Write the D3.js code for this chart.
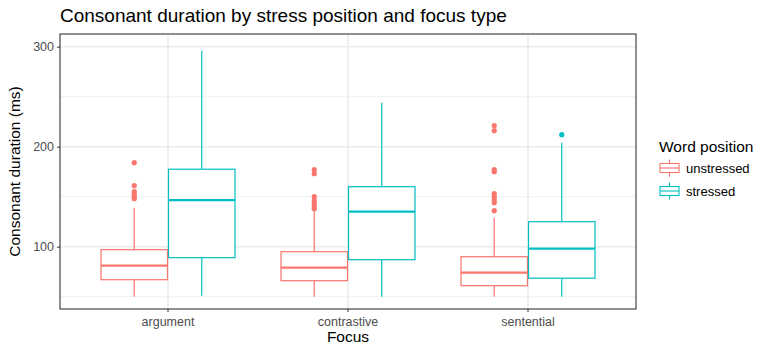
<!DOCTYPE html>
<html>
<head>
<meta charset="utf-8">
<script src="https://cdn.jsdelivr.net/npm/d3@7"></script>
<style>
body { margin: 0; background: #fff; }
text { font-family: "Liberation Sans", Arial, Helvetica, sans-serif; }
</style>
</head>
<body>
<div id="plot"></div>
<script>
var w = 758, h = 345;

// data
var focusTypes = ['argument', 'contrastive', 'sentential'];
var positions = ['unstressed', 'stressed'];
var colors = ['#F8766D', '#00BFC4'];
var yTicks = [100, 200, 300];

// [lowerWhisker, q1, median, q3, upperWhisker] per focus type
var unstressedStats = [[50, 67, 81, 97, 139], [50, 66, 79, 95, 137], [50, 61, 74, 90, 129]];
var stressedStats = [[51, 89, 146.5, 177.5, 296], [50, 87, 135, 160, 244], [50, 68.5, 98, 125, 204]];
var unstressedOutliers = [[184, 161, 155, 152, 150, 148], [177, 173, 150, 146, 143, 140, 138], [221, 216, 177, 175, 153, 150, 147, 144, 136]];
var stressedOutliers = [[], [], [212]];

var margin = {top: 34, left: 60, right: 122, bottom: 36};
var pw = w - margin.left - margin.right,
    ph = h - margin.top - margin.bottom;

var svg = d3.select('#plot').append('svg')
    .attr('width', w)
    .attr('height', h);

var plot = svg.append('g')
    .attr('transform', 'translate(' + margin.left + ',' + margin.top + ')');

var x = d3.scaleBand()
    .domain(focusTypes)
    .range([0, pw])
    .paddingOuter(0.1)
    .paddingInner(0);
var y = d3.scaleLinear()
    .domain([37.7, 312.7])
    .range([ph, 0]);

var boxW = x.bandwidth() * 0.75;
var sub = d3.scaleBand().domain(positions).range([-boxW / 2, boxW / 2]);

// grid
plot.selectAll('.minor').data([50, 150, 250]).enter().append('line')
    .attr('x1', 0).attr('x2', pw)
    .attr('y1', d => y(d)).attr('y2', d => y(d))
    .style('stroke', '#f0f0f0').style('stroke-width', 1);
plot.selectAll('.major').data(yTicks).enter().append('line')
    .attr('x1', 0).attr('x2', pw)
    .attr('y1', d => y(d)).attr('y2', d => y(d))
    .style('stroke', '#ebebeb').style('stroke-width', 1.6);
plot.selectAll('.vmajor').data(focusTypes).enter().append('line')
    .attr('y1', 0).attr('y2', ph)
    .attr('x1', d => x(d) + x.bandwidth() / 2).attr('x2', d => x(d) + x.bandwidth() / 2)
    .style('stroke', '#ebebeb').style('stroke-width', 1.6);

// boxes
var series = [
  {pos: 'unstressed', color: colors[0], stats: unstressedStats, out: unstressedOutliers},
  {pos: 'stressed', color: colors[1], stats: stressedStats, out: stressedOutliers}
];

series.forEach(function(s) {
  focusTypes.forEach(function(f, i) {
    var st = s.stats[i];
    var cx = x(f) + x.bandwidth() / 2 + sub(s.pos) + sub.bandwidth() / 2;
    var g = plot.append('g');
    g.append('line').attr('x1', cx).attr('x2', cx)
        .attr('y1', y(st[0])).attr('y2', y(st[1]))
        .style('stroke', s.color).style('stroke-width', 1.2);
    g.append('line').attr('x1', cx).attr('x2', cx)
        .attr('y1', y(st[3])).attr('y2', y(st[4]))
        .style('stroke', s.color).style('stroke-width', 1.2);
    g.append('rect')
        .attr('x', cx - sub.bandwidth() / 2 + 0.5)
        .attr('width', sub.bandwidth() - 1)
        .attr('y', y(st[3]))
        .attr('height', y(st[1]) - y(st[3]))
        .style('fill', '#fff').style('stroke', s.color).style('stroke-width', 1.2);
    g.append('line')
        .attr('x1', cx - sub.bandwidth() / 2 + 0.5).attr('x2', cx + sub.bandwidth() / 2 - 0.5)
        .attr('y1', y(st[2])).attr('y2', y(st[2]))
        .style('stroke', s.color).style('stroke-width', 2.3);
    g.selectAll('circle').data(s.out[i]).enter().append('circle')
        .attr('cx', cx).attr('cy', d => y(d)).attr('r', 2.6)
        .style('fill', s.color);
  });
});

// border
plot.append('rect')
    .attr('width', pw).attr('height', ph)
    .style('fill', 'none').style('stroke', '#333').style('stroke-width', 1.1);

// axes
var yAxis = plot.append('g').call(d3.axisLeft(y).tickValues(yTicks).tickSize(3).tickPadding(3));
var xAxis = plot.append('g').attr('transform', 'translate(0,' + ph + ')')
    .call(d3.axisBottom(x).tickSize(3).tickPadding(5));
[yAxis, xAxis].forEach(function(a) {
  a.select('.domain').remove();
  a.selectAll('.tick line').style('stroke', '#333');
  a.selectAll('.tick text').style('fill', '#4d4d4d').style('font-size', '12.5px')
      .style('font-family', '"Liberation Sans", Arial, sans-serif');
});

// titles
svg.append('text').attr('x', 60).attr('y', 22)
    .text('Consonant duration by stress position and focus type')
    .style('font-size', '19px').style('fill', '#000');
svg.append('text').attr('x', margin.left + pw / 2).attr('y', 342)
    .attr('text-anchor', 'middle')
    .text('Focus').style('font-size', '15.5px');
svg.append('text')
    .attr('transform', 'translate(20,' + (margin.top + ph / 2) + ') rotate(-90)')
    .attr('text-anchor', 'middle')
    .text('Consonant duration (ms)').style('font-size', '15.5px');

// legend
var legend = svg.append('g').attr('transform', 'translate(659,0)');
legend.append('text').attr('x', 0).attr('y', 152)
    .text('Word position').style('font-size', '15.5px');
var keys = legend.selectAll('.key').data(positions).enter().append('g')
    .attr('transform', (d, i) => 'translate(0,' + (168 + i * 23) + ')');
keys.append('line').attr('x1', 10.5).attr('x2', 10.5).attr('y1', -8.5).attr('y2', 8.5)
    .style('stroke', (d, i) => colors[i]).style('stroke-width', 1.1);
keys.append('rect').attr('x', 1).attr('y', -4.5).attr('width', 19).attr('height', 9)
    .style('fill', '#fff').style('stroke', (d, i) => colors[i]).style('stroke-width', 1.1);
keys.append('line').attr('x1', 1).attr('x2', 20).attr('y1', 0).attr('y2', 0)
    .style('stroke', (d, i) => colors[i]).style('stroke-width', 1.1);
keys.append('text').attr('x', 27).attr('y', 4.5)
    .text(d => d).style('font-size', '13px').style('fill', '#000');
</script>
</body>
</html>
